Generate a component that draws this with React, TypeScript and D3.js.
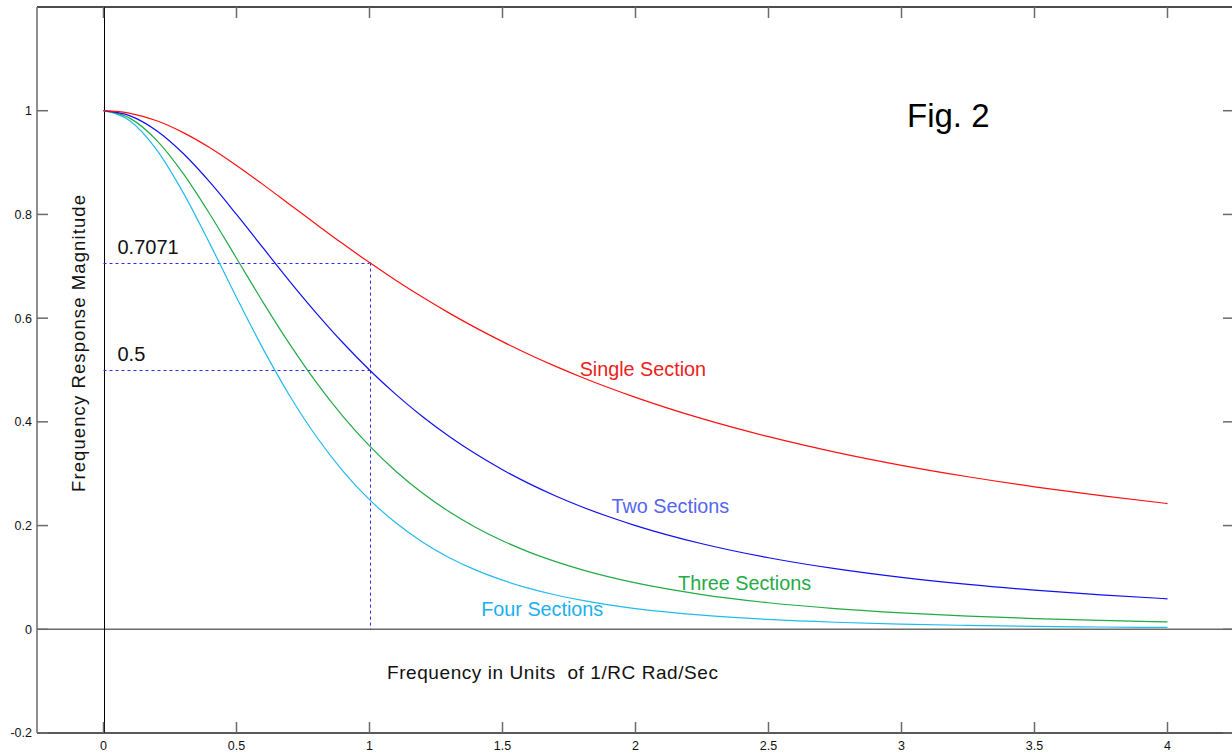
import React, { useEffect, useRef } from 'react';
import * as d3 from 'd3';

// frequency points (units of 1/RC rad/sec)
const freq = [0, 0.1, 0.2, 0.3, 0.4, 0.5, 0.6, 0.7, 0.8, 0.9, 1.0, 1.1, 1.2, 1.3, 1.4, 1.5, 1.6, 1.7, 1.8, 1.9, 2.0, 2.25, 2.5, 2.75, 3.0, 3.25, 3.5, 3.75, 4.0];

// magnitudes
const single = [1, 0.995, 0.9806, 0.9578, 0.9285, 0.8944, 0.8575, 0.8192, 0.7809, 0.7433, 0.7071, 0.6727, 0.6402, 0.6097, 0.5812, 0.5547, 0.53, 0.507, 0.4856, 0.4657, 0.4472, 0.4061, 0.3714, 0.3417, 0.3162, 0.2941, 0.2747, 0.2577, 0.2425];
const two = [1, 0.9901, 0.9615, 0.9174, 0.8621, 0.8, 0.7353, 0.6711, 0.6098, 0.5525, 0.5, 0.4525, 0.4098, 0.3717, 0.3378, 0.3077, 0.2809, 0.2571, 0.2358, 0.2169, 0.2, 0.1649, 0.1379, 0.1168, 0.1, 0.0865, 0.0755, 0.0664, 0.0588];
const three = [1, 0.9852, 0.9429, 0.8787, 0.8004, 0.7155, 0.6305, 0.5498, 0.4762, 0.4107, 0.3536, 0.3044, 0.2624, 0.2266, 0.1963, 0.1707, 0.1489, 0.1304, 0.1145, 0.101, 0.0894, 0.067, 0.0512, 0.0399, 0.0316, 0.0254, 0.0207, 0.0171, 0.0143];
const four = [1, 0.9803, 0.9246, 0.8416, 0.7432, 0.64, 0.5407, 0.4504, 0.3718, 0.3052, 0.25, 0.2048, 0.1679, 0.1381, 0.1141, 0.0947, 0.0789, 0.0661, 0.0556, 0.047, 0.04, 0.0272, 0.019, 0.0136, 0.01, 0.0075, 0.0057, 0.0044, 0.0035];

const seriesNames = ['Single Section', 'Two Sections', 'Three Sections', 'Four Sections'];
const lineColors = ['#ff1010', '#1010f0', '#22aa44', '#22bbee'];
const labelColors = ['#ee2020', '#5565f0', '#25aa45', '#1ab0ee'];
// label anchor positions in data units [x, y]
const labelPos = [[1.79, 0.489], [1.91, 0.224], [2.16, 0.076], [1.42, 0.026]];

const xTicks = [0, 0.5, 1, 1.5, 2, 2.5, 3, 3.5, 4];
const yTicks = [-0.2, 0, 0.2, 0.4, 0.6, 0.8, 1];
const markerLevels = [0.7071, 0.5];
const markerFreq = 1;

export default function App() {
    const ref = useRef<SVGSVGElement>(null);

    useEffect(() => {
        const W = 1232;
        const H = 753;
        const svg = d3.select(ref.current);
        svg.selectAll('*').remove();

        const x = d3.scaleLinear().domain([-0.25, 4.25]).range([37, 1234]);
        const y = d3.scaleLinear().domain([-0.2, 1.2]).range([733, 7]);
        const px = (v: number) => Math.round(v) + 0.5; // crisp 1px lines
        const font = 'Liberation Sans, Arial, sans-serif';
        const frameColor = '#6a6a6a';

        svg.append('rect').attr('width', W).attr('height', H).attr('fill', '#fff');

        // zero lines
        svg.append('line')
            .attr('x1', x(-0.25)).attr('x2', x(4.25))
            .attr('y1', y(0)).attr('y2', y(0))
            .attr('stroke', frameColor).attr('stroke-width', 1.5);
        svg.append('line')
            .attr('x1', px(x(0))).attr('x2', px(x(0)))
            .attr('y1', y(1.2)).attr('y2', y(-0.2))
            .attr('stroke', '#000').attr('stroke-width', 1);

        // frame
        svg.append('line').attr('x1', x(-0.25)).attr('x2', x(4.25)).attr('y1', y(1.2)).attr('y2', y(1.2))
            .attr('stroke', '#111').attr('stroke-width', 1.5);
        svg.append('line').attr('x1', x(-0.25)).attr('x2', x(4.25)).attr('y1', y(-0.2)).attr('y2', y(-0.2))
            .attr('stroke', '#222').attr('stroke-width', 1.5);
        svg.append('line').attr('x1', x(-0.25)).attr('x2', x(-0.25)).attr('y1', y(1.2)).attr('y2', y(-0.2))
            .attr('stroke', frameColor).attr('stroke-width', 1.5);

        // ticks
        const tickLen = 11;
        const tg = svg.append('g').attr('stroke', frameColor).attr('stroke-width', 1.5);
        xTicks.forEach((t) => {
            tg.append('line').attr('x1', x(t)).attr('x2', x(t)).attr('y1', y(-0.2)).attr('y2', y(-0.2) - tickLen);
            tg.append('line').attr('x1', x(t)).attr('x2', x(t)).attr('y1', y(1.2)).attr('y2', y(1.2) + tickLen);
        });
        yTicks.forEach((t) => {
            tg.append('line').attr('x1', x(-0.25)).attr('x2', x(-0.25) + tickLen).attr('y1', y(t)).attr('y2', y(t));
            tg.append('line').attr('x1', x(4.25)).attr('x2', x(4.25) - tickLen).attr('y1', y(t)).attr('y2', y(t));
        });

        svg.append('g')
            .selectAll('text')
            .data(xTicks)
            .join('text')
            .attr('x', (d) => x(d))
            .attr('y', 750)
            .attr('text-anchor', 'middle')
            .attr('font-family', font)
            .attr('font-size', 12.5)
            .attr('fill', '#111')
            .text((d) => String(d));

        svg.append('g')
            .selectAll('text')
            .data(yTicks)
            .join('text')
            .attr('x', 32)
            .attr('y', (d) => y(d))
            .attr('dy', '0.35em')
            .attr('text-anchor', 'end')
            .attr('font-family', font)
            .attr('font-size', 12.5)
            .attr('fill', '#111')
            .text((d) => String(d));

        // marker lines at w = 1/RC
        const dash = svg.append('g').attr('stroke', '#2a2af5').attr('stroke-width', 1).attr('stroke-dasharray', '3,3');
        markerLevels.forEach((lvl) => {
            dash.append('line').attr('x1', x(0)).attr('x2', x(markerFreq)).attr('y1', px(y(lvl))).attr('y2', px(y(lvl)));
            svg.append('text')
                .attr('x', x(0) + 14)
                .attr('y', y(lvl) - 9)
                .attr('font-family', font)
                .attr('font-size', 20)
                .attr('fill', '#111')
                .text(String(lvl));
        });
        dash.append('line').attr('x1', px(x(markerFreq))).attr('x2', px(x(markerFreq)))
            .attr('y1', y(markerLevels[0])).attr('y2', y(0));

        // response curves
        const series = [single, two, three, four];
        const line = d3.line<number>()
            .x((d, i) => x(freq[i]))
            .y((d) => y(d))
            .curve(d3.curveMonotoneX);
        // draw from four sections up so the single section sits on top
        [3, 2, 1, 0].forEach((k) => {
            svg.append('path')
                .datum(series[k])
                .attr('fill', 'none')
                .attr('stroke', lineColors[k])
                .attr('stroke-width', 1.2)
                .attr('d', line);
        });

        seriesNames.forEach((name, k) => {
            svg.append('text')
                .attr('x', x(labelPos[k][0]))
                .attr('y', y(labelPos[k][1]))
                .attr('font-family', font)
                .attr('font-size', 19.8)
                .attr('fill', labelColors[k])
                .text(name);
        });

        // axis titles
        svg.append('text')
            .attr('x', 387)
            .attr('y', 679)
            .attr('font-family', font)
            .attr('font-size', 19)
            .attr('textLength', 331)
            .attr('fill', '#111')
            .text('Frequency in Units  of 1/RC Rad/Sec')
            .style('white-space', 'pre');

        svg.append('text')
            .attr('transform', 'translate(85,343.5) rotate(-90)')
            .attr('text-anchor', 'middle')
            .attr('font-family', font)
            .attr('font-size', 18.5)
            .attr('textLength', 297)
            .attr('fill', '#111')
            .text('Frequency Response Magnitude');

        svg.append('text')
            .attr('x', 907)
            .attr('y', 127)
            .attr('font-family', font)
            .attr('font-size', 33)
            .attr('fill', '#000')
            .text('Fig. 2');
    }, []);

    return (
        <div style={{ position: 'absolute', left: 0, top: 0 }}>
            <svg ref={ref} width={1232} height={753} style={{ display: 'block' }} />
        </div>
    );
}
